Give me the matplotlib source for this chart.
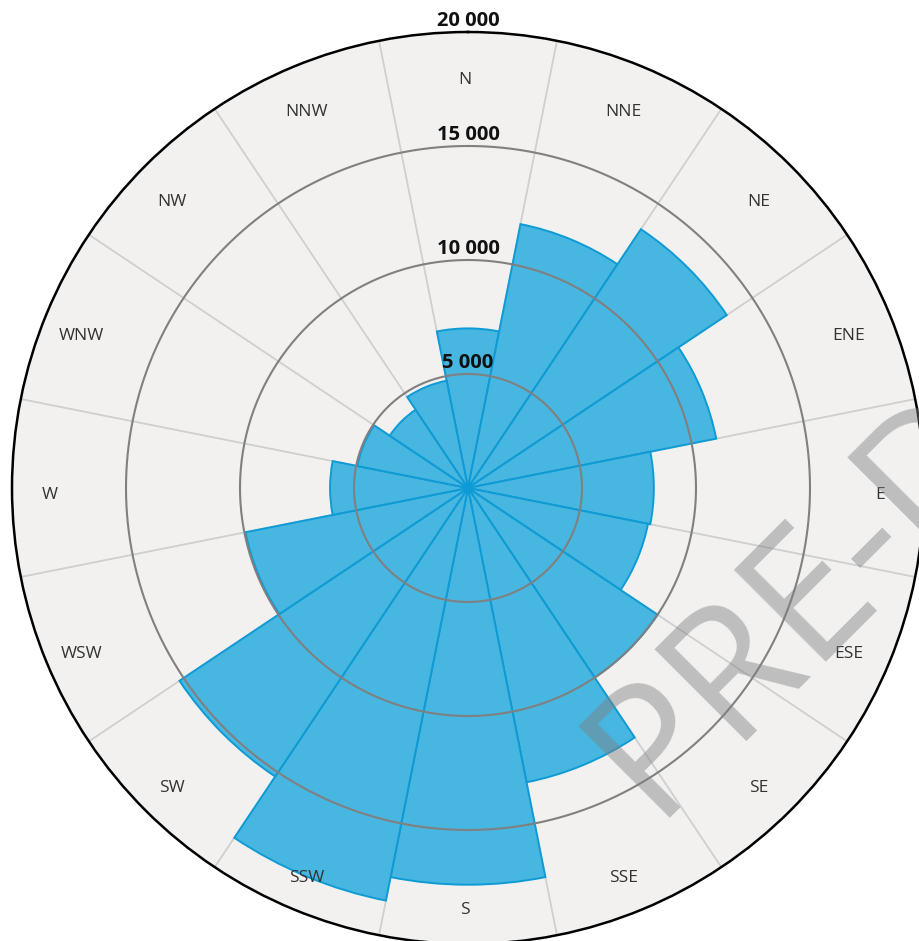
import numpy as np
import matplotlib
matplotlib.use("Agg")
import matplotlib.pyplot as plt
from matplotlib.transforms import ScaledTranslation

# ---- data ----
directions = ["N", "NNE", "NE", "ENE", "E", "ESE", "SE", "SSE",
              "S", "SSW", "SW", "WSW", "W", "WNW", "NW", "NNW"]
values = [7000, 11800, 13650, 11100, 8150, 8050, 10000, 13160,
          17400, 18450, 15220, 9950, 6050, 4950, 4130, 4800]
ring_values = [5000, 10000, 15000, 20000]
ring_labels = ["5 000", "10 000", "15 000", "20 000"]
watermark = "PRE-DRAFT"

plt.rcParams['font.family'] = ['Open Sans', 'DejaVu Sans']

W, H = 919, 941
fig = plt.figure(figsize=(W / 100, H / 100), dpi=100)
fig.patch.set_facecolor('white')

cx, cy, R = 468, 488, 456
ax = fig.add_axes([(cx - R) / W, (H - cy - R) / H, 2 * R / W, 2 * R / H],
                  projection='polar')
ax.set_theta_zero_location('N')
ax.set_theta_direction(-1)
ax.set_facecolor('#f2f1f0')
ax.grid(False)
ax.set_xticks([])
ax.set_yticks([])
rmax = ring_values[-1]
ax.set_ylim(0, rmax)
ax.spines['polar'].set_color('black')
ax.spines['polar'].set_linewidth(1.8)

n = len(directions)
width = 2 * np.pi / n
theta = np.arange(n) * width

# radial separators (under bars)
for b in theta + width / 2:
    ax.plot([b, b], [0, rmax], color='#cfcfcf', lw=1.3, zorder=1)

# bars
ax.bar(theta, values, width=width, bottom=0, align='center',
       color='#47b6e0', edgecolor='#0e9bd5', linewidth=1.4, zorder=2)

# rings over bars
tt = np.linspace(0, 2 * np.pi, 500)
for rv in ring_values[:-1]:
    ax.plot(tt, np.full_like(tt, rv), color='#808080', lw=1.5, zorder=4)

# ring labels
for rv, lab in zip(ring_values, ring_labels):
    ax.text(0, rv + 500, lab, ha='center', va='center', fontsize=14.5,
            fontweight='bold', color='#111111', zorder=6, clip_on=False)

# direction labels
lab_tr = ax.transData + ScaledTranslation(-3 / 100, -7 / 100, fig.dpi_scale_trans)
for t, d in zip(theta, directions):
    ax.text(t, 18200, d, ha='center', va='center', fontsize=12.5,
            color='#333333', zorder=5, transform=lab_tr)

# watermark
fig.text(652 / W, (H - 818) / H, watermark, rotation=45, rotation_mode='anchor',
         ha='left', va='baseline', fontsize=131, color='#808080', alpha=0.45,
         zorder=10)

fig.savefig('out.png', dpi=100, facecolor='white')
